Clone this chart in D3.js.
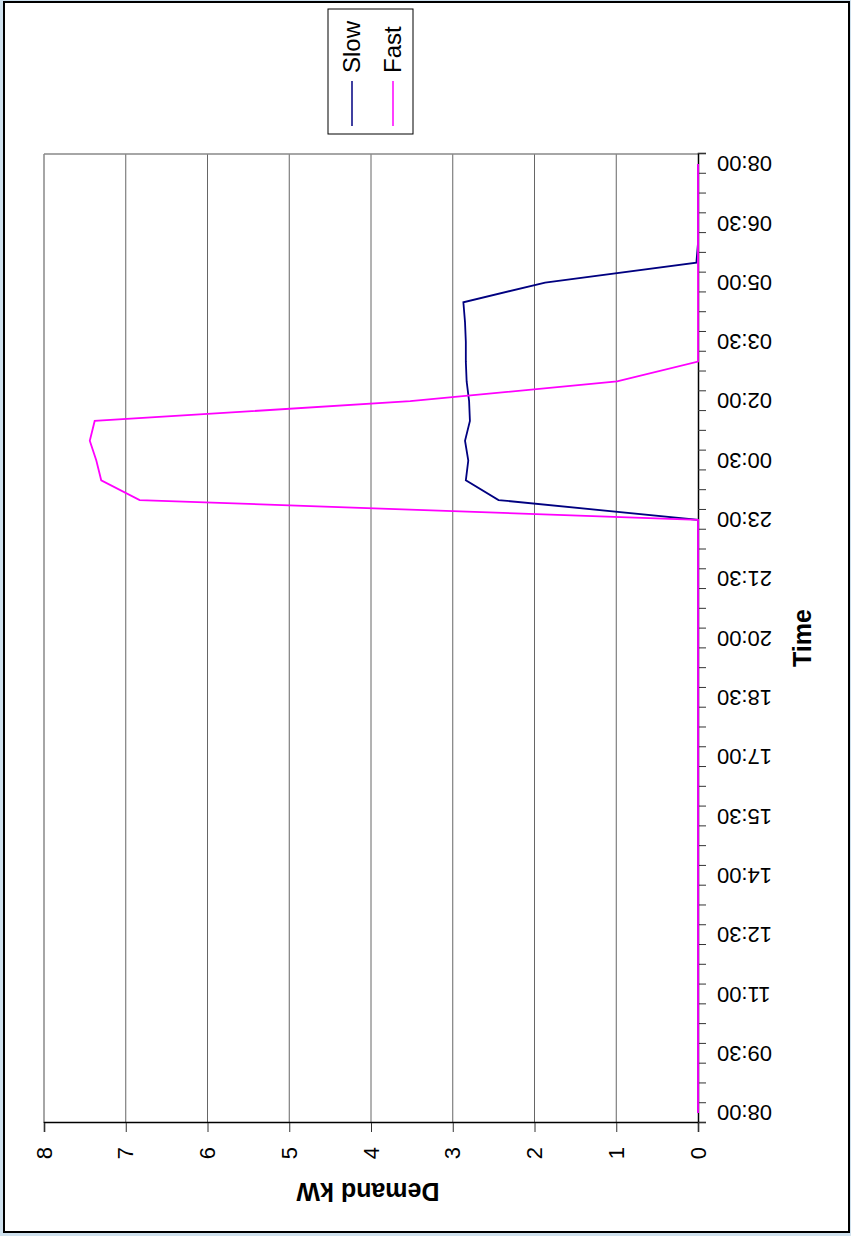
<!DOCTYPE html>
<html>
<head>
<meta charset="utf-8">
<script src="https://d3js.org/d3.v7.min.js"></script>
<style>
  body { margin: 0; background: #cfe1ee; }
  svg { display: block; }
  text { font-family: "Liberation Sans", Arial, sans-serif; fill: #000; }
</style>
</head>
<body>
<div id="chart"></div>
<script>
// Half-hourly categories, 08:00 to 08:00 next day
var times = ["08:00","08:30","09:00","09:30","10:00","10:30","11:00","11:30","12:00","12:30",
             "13:00","13:30","14:00","14:30","15:00","15:30","16:00","16:30","17:00","17:30",
             "18:00","18:30","19:00","19:30","20:00","20:30","21:00","21:30","22:00","22:30",
             "23:00","23:30","00:00","00:30","01:00","01:30","02:00","02:30","03:00","03:30",
             "04:00","04:30","05:00","05:30","06:00","06:30","07:00","07:30","08:00"];

// Demand kW for each series
var slow = [0,0,0,0,0,0,0,0,0,0, 0,0,0,0,0,0,0,0,0,0, 0,0,0,0,0,0,0,0,0,0,
            0,2.44,2.84,2.81,2.85,2.79,2.80,2.83,2.84,2.84,
            2.85,2.87,1.87,0.02,0,0,0,0,0];
var fast = [0,0,0,0,0,0,0,0,0,0, 0,0,0,0,0,0,0,0,0,0, 0,0,0,0,0,0,0,0,0,0,
            0,6.83,7.30,7.36,7.44,7.38,3.52,0.99,0,0,
            0,0,0,0,0,0,0,0,0];

var valueTicks = [0,1,2,3,4,5,6,7,8];
var series = [
    { name: "Slow", values: slow, color: "#000080" },
    { name: "Fast", values: fast, color: "#ff00ff" }
];

function drawChart() {
    var W = 851, H = 1236;

    var svg = d3.select("#chart").append("svg")
        .attr("width", W)
        .attr("height", H);

    // white chart area with black frame
    svg.append("rect")
        .attr("x", 4).attr("y", 2)
        .attr("width", 845).attr("height", 1230)
        .attr("fill", "#fff")
        .attr("stroke", "#000")
        .attr("stroke-width", 2);

    // draw the chart in landscape, then turn it a quarter turn anticlockwise
    var g = svg.append("g")
        .attr("transform", "translate(0," + H + ") rotate(-90)");

    var plotLeft = 113, plotRight = 1082, plotTop = 44, plotBottom = 698;

    var xScale = d3.scaleBand()
        .domain(times.map(function(d, i) { return i; }))
        .range([plotLeft, plotRight])
        .padding(0);

    var xEdge = d3.scaleLinear()
        .domain([0, times.length])
        .range([plotLeft, plotRight]);

    var yScale = d3.scaleLinear()
        .domain([0, 8])
        .range([plotBottom, plotTop]);

    // gridlines
    g.append("g")
        .selectAll("line")
        .data(valueTicks.slice(1))
        .enter()
        .append("line")
        .attr("x1", plotLeft).attr("x2", plotRight)
        .attr("y1", function(d) { return yScale(d); })
        .attr("y2", function(d) { return yScale(d); })
        .attr("stroke", function(d) { return d === 8 ? "#888" : "#666"; })
        .attr("stroke-width", function(d) { return d === 8 ? 1.5 : 1; });

    // plot area border (right side)
    g.append("line")
        .attr("x1", plotRight).attr("x2", plotRight)
        .attr("y1", plotTop).attr("y2", plotBottom)
        .attr("stroke", "#888")
        .attr("stroke-width", 1.5);

    // value axis
    var yAxis = g.append("g")
        .attr("transform", "translate(" + plotLeft + ",0)")
        .call(d3.axisLeft(yScale).tickValues(valueTicks).tickSize(9).tickPadding(15));
    yAxis.selectAll("text").style("font-size", "22px");
    yAxis.select(".domain").attr("stroke", "#000").attr("stroke-width", 1.5);
    yAxis.selectAll(".tick line").attr("stroke", "#333");

    // category axis: ticks between categories
    var edgeAxis = g.append("g")
        .attr("transform", "translate(0," + plotBottom + ")")
        .call(d3.axisBottom(xEdge).tickValues(d3.range(times.length + 1))
            .tickSize(8).tickFormat(""));
    edgeAxis.select(".domain").attr("stroke", "#000").attr("stroke-width", 1.5);
    edgeAxis.selectAll(".tick line").attr("stroke", "#333");

    // category labels every 90 minutes
    var labelAxis = g.append("g")
        .attr("transform", "translate(0," + plotBottom + ")")
        .call(d3.axisBottom(xScale)
            .tickValues(xScale.domain().filter(function(d) { return d % 3 === 0; }))
            .tickSize(0)
            .tickFormat(function(d) { return times[d]; }));
    labelAxis.select(".domain").remove();
    labelAxis.selectAll("text")
        .style("font-size", "22px")
        .style("text-anchor", "end")
        .attr("x", -19)
        .attr("y", 0)
        .attr("dy", "0.35em")
        .attr("transform", "rotate(-90)");

    // lines
    var line = d3.line()
        .x(function(d, i) { return xScale(i) + xScale.bandwidth() / 2; })
        .y(function(d) { return yScale(d); });

    g.selectAll(".series")
        .data(series)
        .enter()
        .append("path")
        .attr("class", "series")
        .attr("d", function(d) { return line(d.values); })
        .attr("fill", "none")
        .attr("stroke", function(d) { return d.color; })
        .attr("stroke-width", 1.8);

    // axis titles
    g.append("text")
        .attr("x", 598).attr("y", 802)
        .attr("dy", "0.35em")
        .attr("text-anchor", "middle")
        .style("font-size", "25px")
        .style("font-weight", "bold")
        .text("Time");

    g.append("text")
        .attr("transform", "translate(44,368) rotate(-90)")
        .attr("dy", "0.35em")
        .attr("text-anchor", "middle")
        .style("font-size", "25px")
        .style("font-weight", "bold")
        .text("Demand kW");

    // legend
    var legend = g.append("g");
    legend.append("rect")
        .attr("x", 1102).attr("y", 328)
        .attr("width", 125).attr("height", 85)
        .attr("fill", "#fff")
        .attr("stroke", "#000")
        .attr("stroke-width", 1);

    var item = legend.selectAll(".item")
        .data(series)
        .enter()
        .append("g")
        .attr("transform", function(d, i) { return "translate(0," + (352 + i * 41) + ")"; });
    item.append("line")
        .attr("x1", 1110).attr("x2", 1155)
        .attr("stroke", function(d) { return d.color; })
        .attr("stroke-width", 1.5);
    item.append("text")
        .attr("x", 1163)
        .attr("dy", "0.35em")
        .style("font-size", "24px")
        .text(function(d) { return d.name; });
}

window.onload = drawChart;
</script>
</body>
</html>
